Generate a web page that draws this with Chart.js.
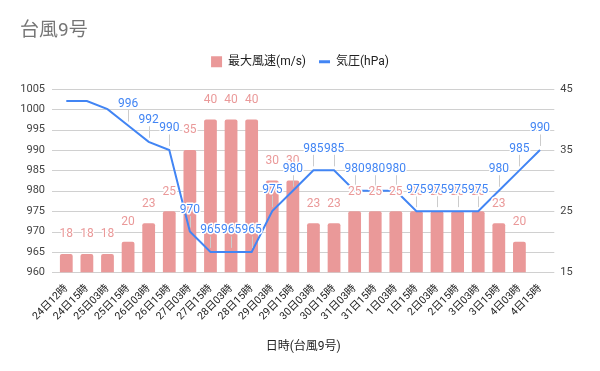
<!DOCTYPE html>
<html>
<head>
<meta charset="utf-8">
<script src="https://cdn.jsdelivr.net/npm/chart.js@4/dist/chart.umd.min.js"></script>
<style>
  html, body { margin: 0; padding: 0; background: #ffffff; }
  #wrap { width: 600px; height: 371px; position: relative; }
</style>
</head>
<body>
<div id="wrap"><canvas id="c" width="600" height="371"></canvas></div>
<script>
const chartTitle = '台風9号';
const axisTitle = '日時(台風9号)';
const categories = ['24日12時','24日15時','25日03時','25日15時','26日03時','26日15時','27日03時','27日15時','28日03時','28日15時','29日03時','29日15時','30日03時','30日15時','31日03時','31日15時','1日03時','1日15時','2日03時','2日15時','3日03時','3日15時','4日03時','4日15時'];
const windLabel = '最大風速(m/s)';
const windSpeed = [18,18,18,20,23,25,35,40,40,40,30,30,23,23,25,25,25,25,25,25,25,23,20,null];
const pressureLabel = '気圧(hPa)';
const pressure = [1002,1002,1000,996,992,990,970,965,965,965,975,980,985,985,980,980,980,975,975,975,975,980,985,990];
const pressureTicks = [960,965,970,975,980,985,990,995,1000,1005];
const windTicks = [15,25,35,45];

const FONT = 'Roboto, "Noto Sans CJK JP", sans-serif';
const BAR_COLOR = '#ea9999';
const LINE_COLOR = '#4285f4';

const legendSpacing = {
  id: 'legendSpacing',
  beforeInit(chart) {
    const orig = chart.legend.fit;
    chart.legend.fit = function () {
      orig.call(this);
      this.height += 11;
    };
  }
};

const gridPlugin = {
  id: 'extendedGrid',
  beforeDatasetsDraw(chart) {
    const ctx = chart.ctx, area = chart.chartArea, ys = chart.scales.y;
    ctx.save();
    ctx.strokeStyle = '#d0d0d0';
    ctx.lineWidth = 1;
    ctx.beginPath();
    ys.ticks.forEach((t, i) => {
      const py = Math.round(ys.getPixelForTick(i)) + 0.5;
      ctx.moveTo(area.left - 4, py);
      ctx.lineTo(area.right + 4, py);
    });
    ctx.stroke();
    ctx.restore();
  }
};

const labelPlugin = {
  id: 'valueLabels',
  afterDatasetsDraw(chart) {
    const ctx = chart.ctx, area = chart.chartArea;
    const barMeta = chart.getDatasetMeta(0), lineMeta = chart.getDatasetMeta(1);
    ctx.save();
    ctx.font = '12px ' + FONT;
    ctx.textAlign = 'center';
    ctx.textBaseline = 'middle';
    ctx.lineJoin = 'round';
    ctx.strokeStyle = '#cccccc';
    ctx.lineWidth = 1;
    lineMeta.data.forEach((pt, i) => {
      const ly = pt.y - 21.5;
      if (ly < area.top) return;
      const x = Math.round(pt.x) + 0.5;
      ctx.beginPath();
      ctx.moveTo(x, ly + 6);
      ctx.lineTo(x, pt.y - 4);
      ctx.stroke();
    });
    barMeta.data.forEach((el, i) => {
      const v = windSpeed[i];
      if (v == null) return;
      const ly = el.y - 19.5;
      if (ly < area.top) return;
      ctx.lineWidth = 3;
      ctx.strokeStyle = '#ffffff';
      ctx.strokeText(String(v), el.x, ly);
      ctx.fillStyle = BAR_COLOR;
      ctx.fillText(String(v), el.x, ly);
    });
    lineMeta.data.forEach((pt, i) => {
      const v = pressure[i];
      if (v == null) return;
      const ly = pt.y - 21.5;
      if (ly < area.top) return;
      ctx.lineWidth = 3;
      ctx.strokeStyle = '#ffffff';
      ctx.strokeText(String(v), pt.x, ly);
      ctx.fillStyle = LINE_COLOR;
      ctx.fillText(String(v), pt.x, ly);
    });
    ctx.restore();
  }
};

new Chart(document.getElementById('c'), {
  type: 'bar',
  data: {
    labels: categories,
    datasets: [
      {
        type: 'bar',
        label: windLabel,
        data: windSpeed,
        yAxisID: 'y1',
        backgroundColor: BAR_COLOR,
        borderWidth: 0,
        borderRadius: 2,
        borderSkipped: 'start',
        categoryPercentage: 1.0,
        barPercentage: 0.62,
        order: 1
      },
      {
        type: 'line',
        label: pressureLabel,
        data: pressure,
        yAxisID: 'y',
        borderColor: LINE_COLOR,
        backgroundColor: LINE_COLOR,
        borderWidth: 2,
        tension: 0,
        pointRadius: 0,
        pointHoverRadius: 0,
        fill: false,
        order: 0
      }
    ]
  },
  options: {
    responsive: false,
    animation: false,
    devicePixelRatio: 1,
    layout: { padding: { left: 20, right: 20, top: 0, bottom: 0 } },
    plugins: {
      title: {
        display: true,
        text: chartTitle,
        align: 'start',
        color: '#757575',
        font: { family: FONT, size: 19, weight: 'normal', lineHeight: 1.2 },
        padding: { top: 20, bottom: 0 }
      },
      legend: {
        display: true,
        position: 'top',
        align: 'center',
        labels: {
          usePointStyle: true,
          boxWidth: 11,
          boxHeight: 11,
          pointStyleWidth: 11,
          padding: 13,
          color: '#222222',
          font: { family: FONT, size: 12 },
          generateLabels(chart) {
            return chart.data.datasets.map((ds, i) => ({
              text: ds.label,
              fillStyle: ds.type === 'line' ? ds.borderColor : ds.backgroundColor,
              strokeStyle: ds.type === 'line' ? ds.borderColor : 'rgba(0,0,0,0)',
              lineWidth: ds.type === 'line' ? 3 : 0,
              pointStyle: ds.type === 'line' ? 'line' : 'rect',
              hidden: false,
              datasetIndex: i,
              fontColor: '#222222'
            }));
          }
        }
      },
      tooltip: { enabled: false }
    },
    scales: {
      x: {
        offset: true,
        grid: { display: false, drawTicks: false },
        border: { display: false },
        ticks: {
          autoSkip: false,
          minRotation: 45,
          maxRotation: 45,
          padding: 10,
          color: '#222222',
          font: { family: FONT, size: 10.5 }
        },
        title: {
          display: true,
          text: axisTitle,
          color: '#222222',
          font: { family: FONT, size: 12 },
          padding: { top: 0, bottom: 17 }
        },
        afterFit(scale) { scale.height = 98.7; }
      },
      y: {
        position: 'left',
        min: 960,
        max: 1005,
        afterBuildTicks(scale) { scale.ticks = pressureTicks.map(v => ({ value: v })); },
        grid: { display: false, drawTicks: false },
        border: { display: false },
        ticks: {
          padding: 11,
          color: '#444444',
          font: { family: FONT, size: 11 },
          callback: (v) => String(v)
        },
        afterFit(scale) { scale.width = 36; }
      },
      y1: {
        position: 'right',
        min: 15,
        max: 45,
        afterBuildTicks(scale) { scale.ticks = windTicks.map(v => ({ value: v })); },
        grid: { display: false, drawTicks: false },
        border: { display: false },
        ticks: {
          padding: 10,
          color: '#444444',
          font: { family: FONT, size: 11 },
          callback: (v) => String(v)
        },
        afterFit(scale) { scale.width = 29.7; }
      }
    }
  },
  plugins: [legendSpacing, gridPlugin, labelPlugin]
});
</script>
</body>
</html>
